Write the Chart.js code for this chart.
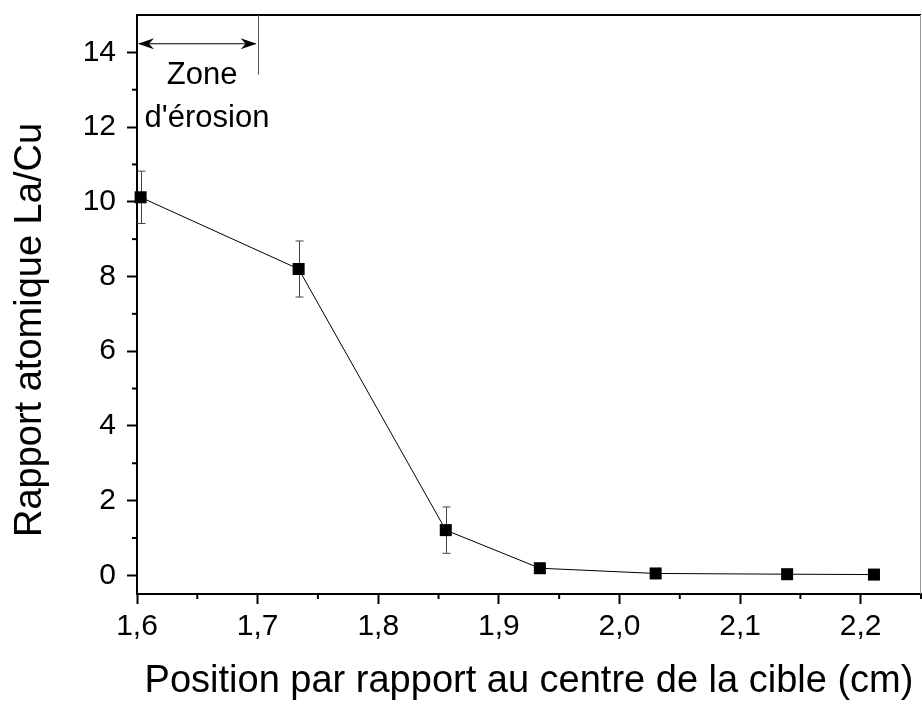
<!DOCTYPE html>
<html><head><meta charset="utf-8">
<script src="https://cdn.jsdelivr.net/npm/chart.js@4/dist/chart.umd.min.js"></script>
<style>html,body{margin:0;padding:0;background:#fff}#wrap{width:922px;height:704px}</style>
</head><body><div id="wrap"><canvas id="c" width="922" height="704"></canvas></div>
<script>
const positions = [1.603, 1.734, 1.856, 1.934, 2.030, 2.139, 2.211];
const ratios = [10.12, 8.20, 1.21, 0.19, 0.05, 0.03, 0.02];
const errors = [0.70, 0.75, 0.62, 0, 0, 0, 0];
const xTicks = [1.6, 1.7, 1.8, 1.9, 2.0, 2.1, 2.2];
const xMinorTicks = [1.65, 1.75, 1.85, 1.95, 2.05, 2.15, 2.25];
const yTicks = [0, 2, 4, 6, 8, 10, 12, 14];
const yMinorTicks = [1, 3, 5, 7, 9, 11, 13];
const xTitle = 'Position par rapport au centre de la cible (cm)';
const yTitle = 'Rapport atomique La/Cu';
const zoneLines = ['Zone', "d'érosion"];
const zoneRange = [1.6, 1.7];

const FONT = '"Liberation Sans", Arial, sans-serif';

const extras = {
  id: 'extras',
  beforeDatasetsDraw(chart) {
    const {ctx, scales: {x, y}} = chart;
    ctx.save();
    ctx.strokeStyle = '#444';
    ctx.lineWidth = 1;
    positions.forEach((p, i) => {
      const e = errors[i];
      if (!e) return;
      const px = Math.round(x.getPixelForValue(p)) + 0.5;
      const t = y.getPixelForValue(ratios[i] + e);
      const b = y.getPixelForValue(ratios[i] - e);
      ctx.beginPath();
      ctx.moveTo(px, t); ctx.lineTo(px, b);
      ctx.moveTo(px - 4, t); ctx.lineTo(px + 4, t);
      ctx.moveTo(px - 4, b); ctx.lineTo(px + 4, b);
      ctx.stroke();
    });
    ctx.restore();
  },
  afterDraw(chart) {
    const {ctx, chartArea: a, scales: {x, y}} = chart;
    ctx.save();
    // top & right frame
    ctx.strokeStyle = '#000';
    ctx.lineWidth = 2;
    ctx.beginPath(); ctx.moveTo(a.left - 1, a.top); ctx.lineTo(a.right, a.top); ctx.stroke();
    ctx.strokeStyle = '#999';
    ctx.lineWidth = 1;
    ctx.beginPath(); ctx.moveTo(a.right - 0.5, a.top); ctx.lineTo(a.right - 0.5, a.bottom); ctx.stroke();
    // minor ticks
    ctx.strokeStyle = '#000';
    ctx.lineWidth = 2;
    xMinorTicks.forEach(v => {
      const px = x.getPixelForValue(v);
      if (px > a.right + 1) return;
      ctx.beginPath(); ctx.moveTo(px, a.bottom); ctx.lineTo(px, a.bottom + 5); ctx.stroke();
    });
    yMinorTicks.forEach(v => {
      const py = y.getPixelForValue(v);
      ctx.beginPath(); ctx.moveTo(a.left, py); ctx.lineTo(a.left - 5, py); ctx.stroke();
    });
    // erosion zone annotation
    const x0 = x.getPixelForValue(zoneRange[0]);
    const x1 = x.getPixelForValue(zoneRange[1]);
    const ay = y.getPixelForValue(14.23);
    ctx.strokeStyle = '#000';
    ctx.fillStyle = '#000';
    ctx.lineWidth = 1;
    ctx.beginPath(); ctx.moveTo(x0 + 2, ay); ctx.lineTo(x1 - 2, ay); ctx.stroke();
    const head = (tx, dir) => {
      ctx.beginPath();
      ctx.moveTo(tx, ay);
      ctx.lineTo(tx + dir * 16, ay - 5.5);
      ctx.lineTo(tx + dir * 11, ay);
      ctx.lineTo(tx + dir * 16, ay + 5.5);
      ctx.closePath();
      ctx.fill();
    };
    head(x0 + 1, 1);
    head(x1 - 1, -1);
    ctx.strokeStyle = '#555';
    ctx.beginPath();
    ctx.moveTo(Math.round(x1) + 0.5, a.top);
    ctx.lineTo(Math.round(x1) + 0.5, y.getPixelForValue(13.4));
    ctx.stroke();
    ctx.fillStyle = '#000';
    ctx.font = '31px ' + FONT;
    ctx.textAlign = 'center';
    ctx.textBaseline = 'alphabetic';
    ctx.fillText(zoneLines[0], x.getPixelForValue(1.654), y.getPixelForValue(13.15));
    ctx.fillText(zoneLines[1], x.getPixelForValue(1.658), y.getPixelForValue(12.0));
    // y title
    ctx.translate(31, 330);
    ctx.rotate(-Math.PI / 2);
    ctx.font = '38px ' + FONT;
    ctx.textBaseline = 'middle';
    ctx.fillText(yTitle, 0, 0);
    ctx.restore();
  }
};

const fmt = v => v.toFixed(1).replace('.', ',');

new Chart(document.getElementById('c'), {
  type: 'line',
  data: {
    datasets: [{
      data: positions.map((p, i) => ({x: p, y: ratios[i]})),
      borderColor: '#000',
      borderWidth: 1,
      backgroundColor: '#000',
      pointStyle: 'rect',
      pointRadius: 8.5,
      pointBorderWidth: 0,
      pointBackgroundColor: '#000',
      tension: 0,
      clip: false
    }]
  },
  options: {
    responsive: false,
    animation: false,
    devicePixelRatio: 1,
    layout: {autoPadding: false, padding: {top: 15, right: 1, left: 0, bottom: 0}},
    plugins: {legend: {display: false}, tooltip: {enabled: false}},
    scales: {
      x: {
        type: 'linear',
        min: 1.6,
        max: 2.25,
        afterBuildTicks: s => { s.ticks = xTicks.map(v => ({value: v})); },
        afterFit: s => { s.height = 110; s.paddingLeft = 0; s.paddingRight = 0; },
        grid: {drawOnChartArea: false, tickLength: 10, tickWidth: 2, tickColor: '#000'},
        border: {color: '#000', width: 2},
        ticks: {
          color: '#000', font: {size: 30, family: FONT}, padding: 5,
          maxRotation: 0, autoSkip: false,
          callback: v => fmt(v)
        },
        title: {display: true, text: xTitle, color: '#000', font: {size: 38, family: FONT}, padding: {top: 3, bottom: 0}}
      },
      y: {
        type: 'linear',
        min: -0.5,
        max: 15,
        afterBuildTicks: s => { s.ticks = yTicks.map(v => ({value: v})); },
        afterFit: s => { s.width = 137; s.paddingTop = 0; s.paddingBottom = 0; },
        grid: {drawOnChartArea: false, tickLength: 10, tickWidth: 2, tickColor: '#000'},
        border: {color: '#000', width: 2},
        ticks: {color: '#000', font: {size: 30, family: FONT}, padding: 11, autoSkip: false,
          callback: v => String(v)}
      }
    }
  },
  plugins: [extras]
});
</script>
</body></html>
